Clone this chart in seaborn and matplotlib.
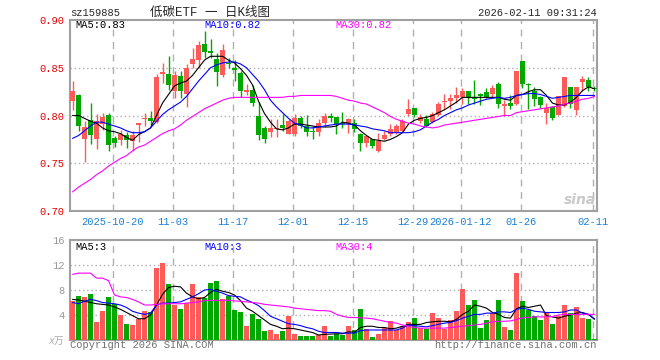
import matplotlib
matplotlib.use("Agg")
import matplotlib.pyplot as plt
import seaborn as sns
import numpy as np

# daily candles, index 0 = 2025-10-09 ... index 87 = 2026-02-11
opens = [0.815, 0.821, 0.775, 0.795, 0.775, 0.791, 0.801, 0.776, 0.774, 0.780,
         0.773, 0.790, 0.796, 0.797, 0.793, 0.843, 0.843, 0.826, 0.841, 0.822,
         0.854, 0.858, 0.875, 0.868, 0.859, 0.842, 0.855, 0.850, 0.845, 0.825,
         0.827, 0.799, 0.787, 0.783, 0.786, 0.790, 0.781, 0.781, 0.797, 0.789,
         0.7835, 0.783, 0.792, 0.800, 0.798, 0.7915, 0.791, 0.792, 0.781, 0.771,
         0.775, 0.7625, 0.775, 0.781, 0.783, 0.784, 0.802, 0.808, 0.794, 0.796,
         0.793, 0.801, 0.8145, 0.815, 0.818, 0.819, 0.826, 0.8175, 0.822, 0.825,
         0.822, 0.833, 0.810, 0.813, 0.812, 0.857, 0.8325, 0.826, 0.819, 0.803,
         0.809, 0.801, 0.810, 0.830, 0.806, 0.835, 0.837, 0.829]
highs = [0.836, 0.823, 0.794, 0.813, 0.802, 0.803, 0.803, 0.779, 0.785, 0.783,
         0.784, 0.792, 0.803, 0.805, 0.843, 0.855, 0.862, 0.847, 0.847, 0.854,
         0.871, 0.878, 0.888, 0.880, 0.865, 0.875, 0.860, 0.858, 0.847, 0.833,
         0.832, 0.814, 0.789, 0.796, 0.796, 0.802, 0.796, 0.802, 0.800, 0.801,
         0.789, 0.796, 0.803, 0.803, 0.798, 0.804, 0.797, 0.796, 0.782, 0.779,
         0.775, 0.782, 0.784, 0.791, 0.791, 0.796, 0.817, 0.808, 0.802, 0.801,
         0.804, 0.814, 0.822, 0.822, 0.830, 0.829, 0.826, 0.837, 0.824, 0.829,
         0.832, 0.835, 0.816, 0.821, 0.847, 0.857, 0.834, 0.830, 0.8205, 0.813,
         0.810, 0.8205, 0.840, 0.830, 0.830, 0.841, 0.840, 0.831]
lows = [0.806, 0.784, 0.751, 0.770, 0.765, 0.785, 0.763, 0.767, 0.769, 0.766,
        0.763, 0.772, 0.789, 0.790, 0.792, 0.834, 0.827, 0.818, 0.818, 0.809,
        0.850, 0.850, 0.860, 0.860, 0.831, 0.840, 0.850, 0.836, 0.819, 0.821,
        0.810, 0.774, 0.771, 0.778, 0.777, 0.784, 0.781, 0.779, 0.787, 0.779,
        0.775, 0.779, 0.788, 0.793, 0.781, 0.787, 0.782, 0.783, 0.763, 0.767,
        0.766, 0.762, 0.774, 0.779, 0.781, 0.783, 0.800, 0.798, 0.792, 0.788,
        0.792, 0.800, 0.807, 0.807, 0.813, 0.812, 0.812, 0.812, 0.811, 0.818,
        0.819, 0.808, 0.800, 0.807, 0.811, 0.829, 0.807, 0.810, 0.808, 0.791,
        0.795, 0.801, 0.809, 0.808, 0.801, 0.826, 0.826, 0.826]
closes = [0.826, 0.789, 0.788, 0.780, 0.794, 0.798, 0.769, 0.771, 0.781, 0.774,
          0.780, 0.792, 0.797, 0.794, 0.840, 0.846, 0.832, 0.842, 0.826, 0.850,
          0.859, 0.874, 0.867, 0.865, 0.846, 0.869, 0.854, 0.848, 0.826, 0.827,
          0.813, 0.780, 0.775, 0.787, 0.787, 0.787, 0.794, 0.797, 0.789, 0.783,
          0.783, 0.792, 0.799, 0.797, 0.791, 0.791, 0.796, 0.786, 0.771, 0.779,
          0.768, 0.773, 0.780, 0.786, 0.789, 0.794, 0.807, 0.801, 0.798, 0.789,
          0.802, 0.812, 0.8155, 0.818, 0.821, 0.826, 0.818, 0.817, 0.8205, 0.819,
          0.829, 0.812, 0.812, 0.810, 0.847, 0.833, 0.8315, 0.817, 0.811, 0.808,
          0.797, 0.8205, 0.840, 0.812, 0.830, 0.838, 0.830, 0.8275]
volumes = [6.24, 7.04, 6.88, 7.36, 2.88, 4.64, 6.88, 5.76, 4.0, 2.56,
           2.4, 3.36, 4.64, 4.43, 11.52, 12.32, 8.96, 5.6, 4.96, 5.92,
           8.96, 6.88, 6.72, 9.12, 9.44, 6.56, 7.04, 4.8, 4.48, 2.24,
           4.16, 3.36, 1.44, 1.6, 0.96, 1.44, 3.84, 0.96, 0.64, 0.64,
           0.64, 0.8, 2.24, 0.64, 0.91, 0.8, 2.24, 1.6, 4.96, 1.76,
           0.48, 0.96, 1.92, 3.04, 1.6, 2.24, 2.88, 3.52, 1.92, 1.76,
           4.32, 3.52, 1.76, 3.2, 4.64, 8.16, 5.6, 6.4, 1.92, 3.2,
           4.32, 6.4, 2.08, 1.6, 10.72, 6.24, 4.8, 3.84, 3.2, 4.32,
           2.56, 3.84, 5.6, 4.32, 5.28, 3.52, 3.36, 0.16]

# moving averages as drawn on the chart
ma5 = [0.800, 0.800, 0.797, 0.794, 0.792, 0.787, 0.784, 0.783, 0.781, 0.777,
       0.774, 0.780, 0.783, 0.787, 0.800, 0.813, 0.822, 0.831, 0.834, 0.836,
       0.842, 0.850, 0.858, 0.862, 0.862, 0.862, 0.858, 0.855, 0.849, 0.842,
       0.832, 0.815, 0.802, 0.793, 0.786, 0.785, 0.787, 0.791, 0.791, 0.790,
       0.789, 0.788, 0.788, 0.788, 0.789, 0.793, 0.792, 0.790, 0.784, 0.779,
       0.775, 0.774, 0.773, 0.775, 0.778, 0.782, 0.791, 0.795, 0.797, 0.798,
       0.800, 0.803, 0.806, 0.810, 0.814, 0.819, 0.819, 0.819, 0.819, 0.819,
       0.819, 0.819, 0.817, 0.816, 0.821, 0.822, 0.825, 0.827, 0.827, 0.821,
       0.813, 0.811, 0.811, 0.814, 0.819, 0.826, 0.830, 0.828]
ma10 = [0.776, 0.779, 0.784, 0.789, 0.793, 0.793, 0.791, 0.789, 0.787, 0.784,
        0.782, 0.782, 0.783, 0.787, 0.794, 0.801, 0.806, 0.810, 0.814, 0.820,
        0.828, 0.836, 0.843, 0.850, 0.853, 0.855, 0.856, 0.856, 0.854, 0.850,
        0.843, 0.836, 0.827, 0.816, 0.809, 0.803, 0.797, 0.792, 0.790, 0.787,
        0.787, 0.788, 0.789, 0.790, 0.791, 0.791, 0.791, 0.790, 0.789, 0.788,
        0.786, 0.785, 0.784, 0.782, 0.782, 0.782, 0.782, 0.783, 0.785, 0.789,
        0.793, 0.796, 0.800, 0.803, 0.806, 0.808, 0.811, 0.813, 0.815, 0.817,
        0.818, 0.819, 0.818, 0.819, 0.821, 0.822, 0.823, 0.823, 0.822, 0.820,
        0.818, 0.819, 0.820, 0.821, 0.821, 0.821, 0.821, 0.821]
ma30 = [0.720, 0.725, 0.729, 0.733, 0.738, 0.742, 0.747, 0.751, 0.755, 0.758,
        0.763, 0.767, 0.769, 0.773, 0.777, 0.781, 0.784, 0.786, 0.790, 0.795,
        0.799, 0.803, 0.807, 0.810, 0.813, 0.816, 0.818, 0.819, 0.819, 0.819,
        0.819, 0.819, 0.819, 0.819, 0.819, 0.819, 0.820, 0.820, 0.821, 0.821,
        0.821, 0.821, 0.821, 0.821, 0.820, 0.818, 0.816, 0.815, 0.813, 0.812,
        0.809, 0.806, 0.803, 0.799, 0.796, 0.794, 0.792, 0.791, 0.789, 0.788,
        0.787, 0.788, 0.790, 0.791, 0.792, 0.793, 0.794, 0.795, 0.796, 0.797,
        0.798, 0.799, 0.800, 0.800, 0.803, 0.804, 0.805, 0.806, 0.807, 0.808,
        0.809, 0.810, 0.812, 0.813, 0.815, 0.817, 0.818, 0.820]
vma5 = [6.5, 6.4, 6.2, 6.0, 5.8, 5.7, 5.6, 5.3, 4.9, 4.4,
        3.9, 3.4, 3.4, 4.0, 5.6, 7.3, 8.4, 8.6, 8.5, 7.5,
        6.9, 6.6, 6.8, 7.6, 8.1, 7.8, 7.6, 7.2, 6.3, 5.1,
        4.6, 3.9, 3.2, 2.5, 2.2, 1.8, 1.9, 1.8, 1.6, 1.4,
        1.2, 0.8, 0.9, 0.95, 1.0, 1.0, 1.3, 1.25, 2.0, 2.2,
        2.2, 2.0, 2.0, 1.8, 1.9, 2.2, 2.5, 2.5, 2.5, 2.8,
        2.9, 3.0, 3.0, 2.9, 3.3, 4.1, 4.6, 5.6, 5.4, 5.1,
        4.4, 4.1, 3.6, 3.5, 5.0, 5.4, 5.2, 5.4, 5.6, 3.9,
        3.7, 3.5, 3.8, 4.0, 4.3, 4.4, 4.1, 3.3]
vma10 = [6.0, 5.8, 6.2, 6.5, 6.3, 6.0, 5.9, 5.8, 5.6, 5.2,
         4.6, 4.3, 4.1, 4.3, 5.6, 5.9, 5.9, 6.0, 6.1, 6.5,
         6.9, 7.4, 8.0, 8.1, 7.8, 7.5, 7.1, 7.0, 6.9, 6.4,
         6.0, 5.5, 4.7, 3.8, 3.4, 3.0, 2.6, 2.5, 2.3, 2.0,
         1.8, 1.4, 1.2, 1.2, 1.2, 1.1, 1.1, 1.1, 1.5, 1.6,
         1.6, 1.6, 1.6, 1.6, 1.6, 1.9, 2.4, 2.3, 2.2, 2.1,
         2.3, 2.5, 2.7, 2.8, 3.1, 3.5, 3.8, 4.1, 4.1, 4.3,
         4.3, 4.5, 4.5, 4.4, 4.9, 5.1, 4.9, 4.6, 4.5, 4.4,
         4.4, 4.4, 4.5, 4.8, 4.8, 4.3, 4.1, 3.4]
vma30 = [10.5, 10.7, 10.7, 10.7, 9.9, 9.9, 9.5, 7.2, 6.9, 6.8,
         6.5, 6.1, 5.6, 5.6, 5.7, 5.8, 5.8, 5.8, 5.8, 5.9,
         6.0, 6.1, 6.3, 6.35, 6.35, 6.35, 6.35, 6.25, 6.2, 6.1,
         6.0, 5.9, 5.7, 5.6, 5.5, 5.4, 5.3, 5.1, 5.0, 4.9,
         4.8, 4.7, 4.7, 4.6, 4.1, 3.8, 3.6, 3.6, 3.55, 3.5,
         3.4, 3.2, 3.0, 2.8, 2.7, 2.4, 2.2, 2.0, 1.9, 1.9,
         1.9, 1.9, 1.9, 2.0, 2.1, 2.2, 2.3, 2.4, 2.5, 2.7,
         2.9, 3.0, 3.0, 3.05, 3.3, 3.55, 3.6, 3.7, 3.7, 3.7,
         3.75, 4.0, 4.1, 4.1, 4.1, 4.1, 4.1, 4.1]

date_pos = [7, 17, 27, 37, 47, 57, 65, 75, 87]
date_labels = ["2025-10-20", "11-03", "11-17", "12-01", "12-15", "12-29",
               "2026-01-12", "01-26", "02-11"]
price_ticks = [0.70, 0.75, 0.80, 0.85, 0.90]
vol_ticks = [4, 8, 12, 16]

RED = "#ff5a5a"
GREEN = "#00a800"
GRID = "#b0b0b0"
FRAME = "#a0a0a0"

sns.set_style("white")
plt.rcParams['font.family'] = ['Liberation Mono', 'Noto Sans CJK SC', 'DejaVu Sans']

x = np.arange(len(closes))
o = np.array(opens)
c = np.array(closes)
cols = [RED if cc >= oo else GREEN for oo, cc in zip(o, c)]

fig = plt.figure(figsize=(6.6, 3.6), dpi=100)
W, H = 660.0, 360.0
ax = fig.add_axes([70 / W, 1 - 211 / H, 527 / W, 191 / H])
axv = fig.add_axes([70 / W, 1 - 340 / H, 527 / W, 100 / H])

# candles
ax.vlines(x, lows, highs, colors=cols, lw=1, zorder=3)
body = np.maximum(np.abs(c - o), 0.0012)
ax.bar(x, body, bottom=np.minimum(o, c), width=0.82, color=cols, linewidth=0, zorder=3)
sns.lineplot(x=x, y=ma5, ax=ax, color="black", lw=0.8, estimator=None, zorder=4)
sns.lineplot(x=x, y=ma10, ax=ax, color="#0000ff", lw=0.8, estimator=None, zorder=4)
sns.lineplot(x=x, y=ma30, ax=ax, color="#ff00ff", lw=0.8, estimator=None, zorder=4)

# volume
axv.bar(x, volumes, width=0.82, color=cols, linewidth=0, zorder=3)
sns.lineplot(x=x, y=vma5, ax=axv, color="black", lw=0.8, estimator=None, zorder=4)
sns.lineplot(x=x, y=vma10, ax=axv, color="#0000ff", lw=0.8, estimator=None, zorder=4)
sns.lineplot(x=x, y=vma30, ax=axv, color="#ff00ff", lw=0.8, estimator=None, zorder=4)

grid_x = [p - 0.3 for p in date_pos]
for a in (ax, axv):
    a.set_xlim(-0.42, 87.42)
    for gx in grid_x:
        a.axvline(gx, color=GRID, lw=1, ls=(0, (5, 4)), zorder=1)
    for s in a.spines.values():
        s.set_color(FRAME)
        s.set_linewidth(1.5)
    a.set_xlabel("")
    a.set_ylabel("")

ax.set_ylim(0.70, 0.90)
for gy in [0.75, 0.80, 0.85]:
    ax.axhline(gy, color=GRID, lw=1, ls=(0, (1, 2)), zorder=1)
ax.set_yticks(price_ticks)
ax.set_yticklabels([f"{t:.2f}" for t in price_ticks])
ax.tick_params(axis="y", length=0, pad=4, labelsize=7.5, labelcolor="#e00000")
ax.set_xticks(grid_x)
ax.set_xticklabels(date_labels)
ax.tick_params(axis="x", length=0, pad=4, labelsize=7.5, labelcolor="#1a7fd4")

axv.set_ylim(0, 16)
for gy in [4, 8, 12]:
    axv.axhline(gy, color=GRID, lw=1, ls=(0, (1, 2)), zorder=1)
axv.set_yticks(vol_ticks)
axv.set_yticklabels([str(t) for t in vol_ticks])
axv.tick_params(axis="y", length=0, pad=4, labelsize=7.5, labelcolor="#999999")
axv.set_xticks([])

def ftxt(px, py, s, **kw):
    fig.text(px / W, 1 - py / H, s, va="center", **kw)

ftxt(70, 13, "sz159885", ha="left", fontsize=7.5)
ftxt(210, 13, "低碳ETF 一 日K线图", ha="center", fontsize=9)
ftxt(597, 13, "2026-02-11 09:31:24", ha="right", fontsize=7.5)

ftxt(75, 25.5, "MA5:0.83", ha="left", fontsize=7.5, color="black")
ftxt(204, 25.5, "MA10:0.82", ha="left", fontsize=7.5, color="#0000ff")
ftxt(335, 25.5, "MA30:0.82", ha="left", fontsize=7.5, color="#ff00ff")
ftxt(75, 246.5, "MA5:3", ha="left", fontsize=7.5, color="black")
ftxt(204, 246.5, "MA10:3", ha="left", fontsize=7.5, color="#0000ff")
ftxt(335, 246.5, "MA30:4", ha="left", fontsize=7.5, color="#ff00ff")

ftxt(64, 341, "x万", ha="right", fontsize=7, color="#aaaaaa", style="italic")
ftxt(70, 345, "Copyright 2026 SINA.COM", ha="left", fontsize=7.5, color="#707070")
ftxt(597, 345, "http://finance.sina.com.cn", ha="right", fontsize=7.5, color="#707070")
ftxt(580, 200, "sina", ha="center", fontsize=10, color="#c8c8c8",
     style="italic", weight="bold", family="DejaVu Sans")

fig.savefig("out.png", dpi=100, facecolor="white")
